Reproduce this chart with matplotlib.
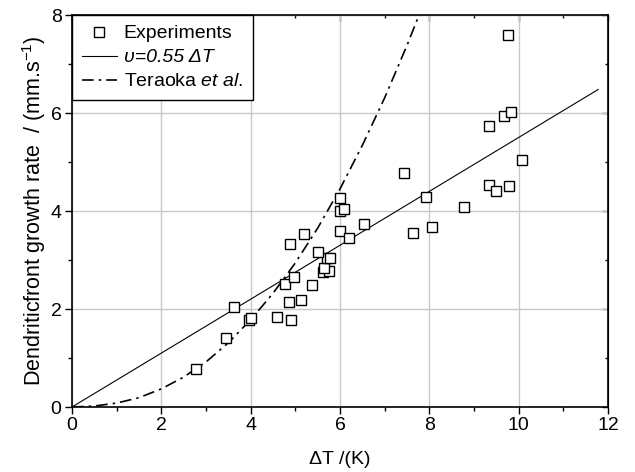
import matplotlib
matplotlib.use("Agg")
import matplotlib.pyplot as plt
from matplotlib.ticker import MultipleLocator

# Experimental data points
exp_dT = [2.77, 3.44, 3.63, 3.96, 4.00, 4.59, 4.91, 4.85, 5.13, 4.76, 5.38, 4.98,
          5.62, 5.75, 5.64, 5.70, 5.78, 5.50, 4.89, 5.20, 6.00, 6.00, 6.09, 6.20,
          6.53, 6.00, 7.43, 7.64, 8.05, 7.93, 8.77, 9.34, 9.50, 9.79, 9.34, 9.68,
          9.82, 9.75, 10.07]
exp_v = [0.78, 1.41, 2.04, 1.77, 1.82, 1.83, 1.78, 2.15, 2.18, 2.52, 2.50, 2.65,
         2.76, 2.78, 2.83, 3.05, 3.05, 3.16, 3.32, 3.54, 3.59, 4.01, 4.05, 3.44,
         3.73, 4.26, 4.78, 3.56, 3.68, 4.28, 4.09, 4.54, 4.41, 4.51, 5.74, 5.93,
         6.03, 7.59, 5.04]

# Linear fit line endpoints (v = 0.55 dT)
fit_dT = [0.0, 11.78]
fit_v = [0.0, 6.48]

# Teraoka et al. model curve
ter_dT = [0.0, 0.5, 1.0, 1.5, 2.0, 2.5, 3.0, 3.5, 4.0, 4.5, 5.0, 5.5, 6.0, 6.5,
          7.0, 7.5, 7.77]
ter_v = [0.0, 0.02, 0.08, 0.19, 0.37, 0.61, 0.92, 1.31, 1.78, 2.32, 2.94, 3.65,
         4.45, 5.34, 6.31, 7.38, 8.0]

plt.rcParams['font.family'] = ['Liberation Sans', 'DejaVu Sans']
plt.rcParams['mathtext.fontset'] = 'custom'
plt.rcParams['mathtext.rm'] = 'Liberation Sans'
plt.rcParams['mathtext.it'] = 'Liberation Sans:italic'

fig = plt.figure(figsize=(6.35, 4.72), dpi=100)
ax = fig.add_axes([72/635, 1-407/472, (608-72)/635, (407-15)/472])

ax.grid(True, which='major', color='#c8c8c8', linewidth=1.0)
ax.set_axisbelow(True)

ax.plot(exp_dT, exp_v, linestyle='none', marker='s', markersize=6.5,
        markerfacecolor='white', markeredgecolor='black', markeredgewidth=1.0,
        label='Experiments', zorder=4)
ax.plot(fit_dT, fit_v, color='black', linewidth=0.8, label='υ=0.55 ΔT', zorder=3)
ax.plot(ter_dT, ter_v, color='black', linewidth=1.2, linestyle=(0, (7, 3, 1.5, 3)),
        label=r'Teraoka $\mathit{et\ al.}$', zorder=3)

ax.set_xlim(0, 12)
ax.set_ylim(0, 8)
ax.xaxis.set_major_locator(MultipleLocator(2))
ax.xaxis.set_minor_locator(MultipleLocator(1))
ax.yaxis.set_major_locator(MultipleLocator(2))
ax.yaxis.set_minor_locator(MultipleLocator(1))

ax.tick_params(which='both', direction='out', labelsize=14, width=1.0,
               top=False, right=False, pad=2.5)
ax.tick_params(which='major', length=5)
ax.tick_params(which='minor', length=3)

# secondary ticks (inward) on top / right
axt = ax.secondary_xaxis('top')
axt.xaxis.set_major_locator(MultipleLocator(2))
axt.xaxis.set_minor_locator(MultipleLocator(1))
axt.tick_params(which='both', direction='in', labeltop=False, width=1.0)
axt.tick_params(which='major', length=4)
axt.tick_params(which='minor', length=2.5)
axr = ax.secondary_yaxis('right')
axr.yaxis.set_major_locator(MultipleLocator(2))
axr.yaxis.set_minor_locator(MultipleLocator(1))
axr.tick_params(which='both', direction='in', labelright=False, width=1.0)
axr.tick_params(which='major', length=4)
axr.tick_params(which='minor', length=2.5)

for s in ax.spines.values():
    s.set_linewidth(1.2)

ax.set_xlabel('ΔT /(K)', fontsize=14, labelpad=12)
ax.set_ylabel(r'Dendriticfront growth rate  / (mm.s$^{\mathregular{-1}}$)',
              fontsize=15.5, labelpad=2)

leg = ax.legend(loc='upper left', bbox_to_anchor=(0, 1), borderaxespad=0,
                fontsize=14, frameon=True, fancybox=False, edgecolor='black',
                framealpha=1, handlelength=1.8, handletextpad=0.36,
                borderpad=0.5, labelspacing=0.33)
leg.get_frame().set_linewidth(1.0)
leg.get_texts()[1].set_fontstyle('italic')

fig.savefig('out.png', dpi=100)
